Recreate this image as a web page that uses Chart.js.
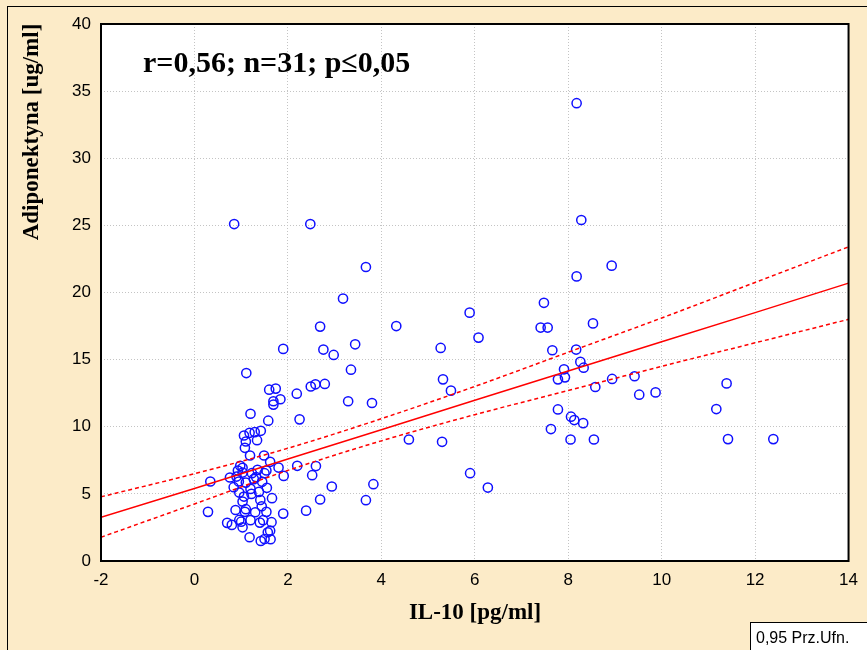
<!DOCTYPE html>
<html lang="pl">
<head>
    <meta charset="UTF-8">
    <title>Adiponektyna vs IL-10</title>
    <script src="https://cdn.jsdelivr.net/npm/chart.js@4.4.1/dist/chart.umd.min.js"></script>
    <style>
      html, body { margin: 0; padding: 0; background: #fcebc8; }
      .box { width: 867px; height: 650px; position: relative; }
    </style>
</head>
<body>
    <div class="box">
        <canvas id="myChart" width="867" height="650"></canvas>
    </div>

    <script>
        // IL-10 [pg/ml] i Adiponektyna [ug/ml]
        const il10 = [
          8.18, 0.85, 2.48, 8.28, 8.93, 3.67, 8.18, 3.18, 7.48, 5.89,
          2.69, 4.32, 7.41, 7.56, 8.53, 6.08, 3.44, 1.90, 2.76, 2.98,
          5.27, 7.66, 8.17, 3.35, 8.26, 8.33, 7.91, 1.11, 5.32, 2.49,
          2.59, 2.79, 7.78, 7.93, 8.94, 9.42, 11.39, 1.60, 1.74, 8.58,
          2.19, 5.49, 9.52, 9.87, 1.69, 1.84, 3.29, 3.80, 1.69, 7.78,
          11.17, 1.20, 2.25, 8.06, 8.13, 8.32, 1.58, 7.63, 4.59, 5.30,
          8.05, 8.55, 11.42, 12.39, 5.90, 6.28, 3.83, 2.94, 3.67, 2.69,
          2.52, 2.60, 2.20, 2.39, 1.90, 0.34, 0.29,
          1.06, 1.18, 1.29, 1.42, 1.10, 1.34, 1.08, 1.19, 1.49, 1.62,
          1.80, 1.91, 0.98, 0.93, 0.90, 1.03, 1.03, 0.76, 1.35, 1.23,
          1.32, 1.50, 1.54, 1.27, 1.10, 0.95, 0.84, 0.96, 1.20, 1.38,
          1.55, 1.66, 1.06, 1.03, 1.41, 1.44, 0.88, 1.10, 1.08, 1.30,
          1.54, 0.70, 0.80, 1.00, 1.03, 1.20, 1.40, 1.47, 1.65, 0.96,
          1.18, 1.42, 1.50, 1.63, 1.57, 1.62, 1.22, 1.45
        ];
        const adiponektyna = [
          34.1, 25.1, 25.1, 25.4, 22.0, 21.9, 21.2, 19.55, 19.23, 18.5,
          17.46, 17.5, 17.39, 17.39, 17.7, 16.64, 16.14, 15.8, 15.75, 15.35,
          15.87, 15.7, 15.75, 14.25, 14.83, 14.4, 14.28, 14.0, 13.53, 13.0,
          13.16, 13.19, 13.53, 13.68, 13.56, 13.76, 13.23, 12.76, 12.84, 12.96,
          12.46, 12.69, 12.39, 12.56, 11.9, 12.05, 11.9, 11.77, 11.65, 11.29,
          11.32, 10.97, 10.55, 10.75, 10.5, 10.27, 10.45, 9.83, 9.05, 8.88,
          9.05, 9.05, 9.08, 9.08, 6.54, 5.47, 5.72, 5.55, 4.53, 4.58,
          6.39, 7.07, 7.09, 3.75, 3.53, 5.92, 3.66,
          9.35, 9.55, 9.6, 9.7, 8.9, 9.0, 8.43, 7.86, 7.86, 7.39,
          6.96, 6.34, 7.09, 6.74, 6.29, 6.94, 6.59, 6.22, 6.79, 6.54,
          6.25, 6.54, 6.74, 6.1, 5.84, 5.92, 5.5, 5.1, 5.37, 5.15,
          5.45, 4.68, 4.8, 4.43, 4.55, 4.08, 3.8, 3.86, 3.66, 3.63,
          3.66, 2.84, 2.69, 2.93, 2.51, 3.04, 2.86, 3.04, 2.89, 3.06,
          1.77, 1.49, 1.64, 1.62, 2.14, 2.26, 5.0, 5.9
        ];

        // prosta regresji i 0,95 przedzial ufnosci (odczyt z wykresu)
        const fitX   = [-2, 0, 2, 4, 6, 8, 10, 12, 14];
        const fitY   = [3.25, 5.4, 7.6, 9.78, 11.97, 14.15, 16.33, 18.5, 20.7];
        const upperY = [4.78, 6.5, 8.4, 10.6, 13.0, 15.55, 18.1, 20.75, 23.4];
        const lowerY = [1.77, 4.25, 6.75, 8.95, 10.9, 12.7, 14.5, 16.25, 18.0];

        const toXY = (xs, ys) => xs.map((x, i) => ({ x: x, y: ys[i] }));

        const BG = '#fcebc8';
        const SERIF = '"Liberation Serif", "Times New Roman", serif';
        const SANS = '"Liberation Sans", Arial, sans-serif';

        const decor = {
          id: 'decor',
          beforeDraw(chart) {
            const c = chart.ctx, a = chart.chartArea;
            c.save();
            c.fillStyle = BG;
            c.fillRect(0, 0, chart.width, chart.height);
            c.strokeStyle = '#000';
            c.lineWidth = 1;
            c.strokeRect(7.5, 6.5, 880, 680);
            c.fillStyle = '#fff';
            c.fillRect(a.left, a.top, a.right - a.left, a.bottom - a.top);
            c.restore();
          },
          afterDraw(chart) {
            const c = chart.ctx, a = chart.chartArea;
            c.save();
            // ramka
            c.strokeStyle = '#000';
            c.lineWidth = 2;
            c.strokeRect(a.left, a.top, a.right - a.left, a.bottom - a.top);

            c.fillStyle = '#000';
            c.font = 'bold 30px ' + SERIF;
            c.textBaseline = 'alphabetic';
            c.textAlign = 'left';
            c.fillText('r=0,56; n=31; p\u22640,05', 143, 72);

            c.font = 'bold 23px ' + SERIF;
            c.textAlign = 'center';
            c.textBaseline = 'middle';
            c.fillText('IL-10 [pg/ml]', 475, 613);

            c.save();
            c.translate(32, 132);
            c.rotate(-Math.PI / 2);
            c.fillText('Adiponektyna [ug/ml]', 0, 0);
            c.restore();

            // legenda
            c.fillStyle = '#fff';
            c.fillRect(750, 622, 130, 40);
            c.lineWidth = 1;
            c.strokeRect(750.5, 622.5, 130, 40);
            c.fillStyle = '#000';
            c.font = '16px ' + SANS;
            c.textAlign = 'left';
            c.textBaseline = 'alphabetic';
            c.fillText('0,95 Prz.Ufn.', 756, 643);
            c.restore();
          }
        };

        const ctx = document.getElementById('myChart').getContext('2d');
        const myChart = new Chart(ctx, {
          type: 'scatter',
          data: {
            datasets: [
              {
                label: 'Adiponektyna',
                data: toXY(il10, adiponektyna),
                showLine: false,
                pointStyle: 'circle',
                pointRadius: 4.6,
                pointBorderWidth: 1.5,
                borderColor: '#1010ff',
                backgroundColor: 'rgba(0,0,0,0)',
                order: 1
              },
              {
                label: 'Regresja',
                data: toXY(fitX, fitY),
                showLine: true,
                pointRadius: 0,
                borderColor: '#ff0000',
                borderWidth: 1.5,
                order: 0
              },
              {
                label: 'Gorna',
                data: toXY(fitX, upperY),
                showLine: true,
                pointRadius: 0,
                borderColor: '#ff0000',
                borderWidth: 1.5,
                borderDash: [4, 3],
                cubicInterpolationMode: 'monotone',
                order: 0
              },
              {
                label: 'Dolna',
                data: toXY(fitX, lowerY),
                showLine: true,
                pointRadius: 0,
                borderColor: '#ff0000',
                borderWidth: 1.5,
                borderDash: [4, 3],
                cubicInterpolationMode: 'monotone',
                order: 0
              }
            ]
          },
          options: {
            responsive: false,
            animation: false,
            layout: { padding: { left: 0, top: 24, right: 17, bottom: 0 } },
            plugins: {
              legend: { display: false },
              tooltip: { enabled: false }
            },
            scales: {
              x: {
                type: 'linear',
                min: -2,
                max: 14,
                afterFit(scale) { scale.height = 89; },
                ticks: { stepSize: 2, color: '#000', padding: 9, font: { family: SANS, size: 17 } },
                grid: { color: '#c4c4c4', lineWidth: 1, drawTicks: false },
                border: { display: false, dash: [1, 2] }
              },
              y: {
                min: 0,
                max: 40,
                afterFit(scale) { scale.width = 101; },
                ticks: { stepSize: 5, color: '#000', padding: 10, font: { family: SANS, size: 17 } },
                grid: { color: '#c4c4c4', lineWidth: 1, drawTicks: false },
                border: { display: false, dash: [1, 2] }
              }
            }
          },
          plugins: [decor]
        });
    </script>
</body>
</html>
